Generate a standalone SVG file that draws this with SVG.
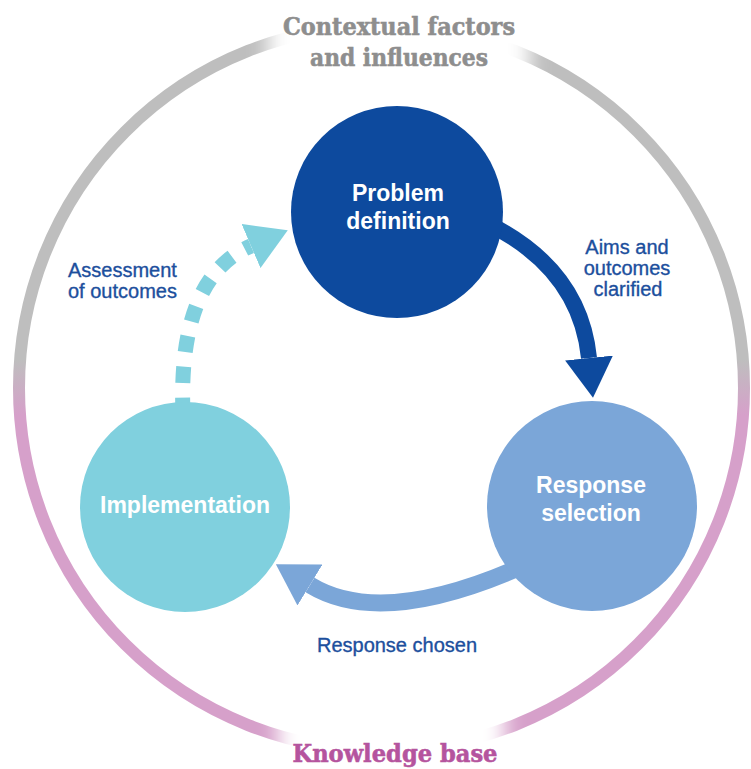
<svg xmlns="http://www.w3.org/2000/svg" width="751" height="769" viewBox="0 0 751 769">
  <style>
    .ring { fill: none; stroke: url(#ringGrad); stroke-width: 12; }
    .fade { fill: #ffffff; filter: url(#soft); }
    .title { font-family: "DejaVu Serif", "Liberation Serif", serif; font-weight: bold; font-size: 25px; text-anchor: middle; stroke-width: 0.6; }
    .node-text { font-family: "Liberation Sans", Arial, sans-serif; font-weight: bold; font-size: 23px; fill: #ffffff; text-anchor: middle; }
    .label { font-family: "Liberation Sans", Arial, sans-serif; font-size: 20px; fill: #1c4f9d; stroke: #1c4f9d; stroke-width: 0.35; }
    .conn { fill: none; }
  </style>
  <defs>
    <linearGradient id="ringGrad" gradientUnits="userSpaceOnUse" x1="0" y1="360" x2="0" y2="415">
      <stop offset="0" stop-color="#bebebe"/>
      <stop offset="1" stop-color="#d6a0ca"/>
    </linearGradient>
    <filter id="soft" x="-50%" y="-50%" width="200%" height="200%">
      <feGaussianBlur stdDeviation="10"/>
    </filter>
    <marker id="headDark" markerUnits="userSpaceOnUse" viewBox="0 0 40 48" refX="0" refY="24" markerWidth="40" markerHeight="48" orient="auto">
      <path d="M0,0 L40,24 L0,48 Z" fill="#0d4a9e"/>
    </marker>
    <marker id="headMid" markerUnits="userSpaceOnUse" viewBox="0 0 40 48" refX="0" refY="24" markerWidth="40" markerHeight="48" orient="auto">
      <path d="M0,0 L40,24 L0,48 Z" fill="#7ba6d8"/>
    </marker>
    <marker id="headLight" markerUnits="userSpaceOnUse" viewBox="0 0 40 48" refX="0" refY="24" markerWidth="40" markerHeight="48" orient="auto">
      <path d="M0,0 L40,24 L0,48 Z" fill="#80d0de"/>
    </marker>
  </defs>

  <rect width="751" height="769" fill="#ffffff"/>

  <g id="outer-ring">
    <circle class="ring" cx="381.5" cy="388" r="362.5"/>
    <rect class="fade" x="268" y="-20" width="262" height="100"/>
    <rect class="fade" x="278" y="705" width="227" height="90"/>
    <text class="title" fill="#8e8e8e" stroke="#8e8e8e" x="399" y="35" textLength="232" lengthAdjust="spacingAndGlyphs">Contextual factors</text>
    <text class="title" fill="#8e8e8e" stroke="#8e8e8e" x="399" y="66" textLength="178" lengthAdjust="spacingAndGlyphs">and influences</text>
    <text class="title" fill="#b5549e" stroke="#b5549e" x="395" y="762" textLength="205" lengthAdjust="spacingAndGlyphs">Knowledge base</text>
  </g>

  <g id="connectors">
    <path class="conn" d="M485,222 Q580,268 589,358" stroke="#0d4a9e" stroke-width="16" marker-end="url(#headDark)"/>
    <path class="conn" d="M525,565 Q382,629 310,585" stroke="#7ba6d8" stroke-width="17" marker-end="url(#headMid)"/>
    <path class="conn" d="M183,414 Q177.5,277.5 251,246" stroke="#80d0de" stroke-width="15" stroke-dasharray="16 15" marker-end="url(#headLight)"/>
    <g id="connector-labels">
      <text class="label" text-anchor="middle" x="627" y="254">Aims and</text>
      <text class="label" text-anchor="middle" x="627" y="275">outcomes</text>
      <text class="label" text-anchor="middle" x="628" y="296">clarified</text>
      <text class="label" text-anchor="middle" x="397" y="652">Response chosen</text>
      <text class="label" x="68" y="277">Assessment</text>
      <text class="label" x="68" y="298">of outcomes</text>
    </g>
  </g>

  <g id="node-problem-definition">
    <circle cx="397" cy="212" r="106" fill="#0d4a9e"/>
    <text class="node-text" x="398" y="201">Problem</text>
    <text class="node-text" x="398" y="229">definition</text>
  </g>

  <g id="node-response-selection">
    <circle cx="592" cy="506" r="105" fill="#7ba6d8"/>
    <text class="node-text" x="591" y="493">Response</text>
    <text class="node-text" x="591" y="521">selection</text>
  </g>

  <g id="node-implementation">
    <circle cx="185" cy="507" r="105" fill="#80d0de"/>
    <text class="node-text" x="185" y="513">Implementation</text>
  </g>
</svg>
